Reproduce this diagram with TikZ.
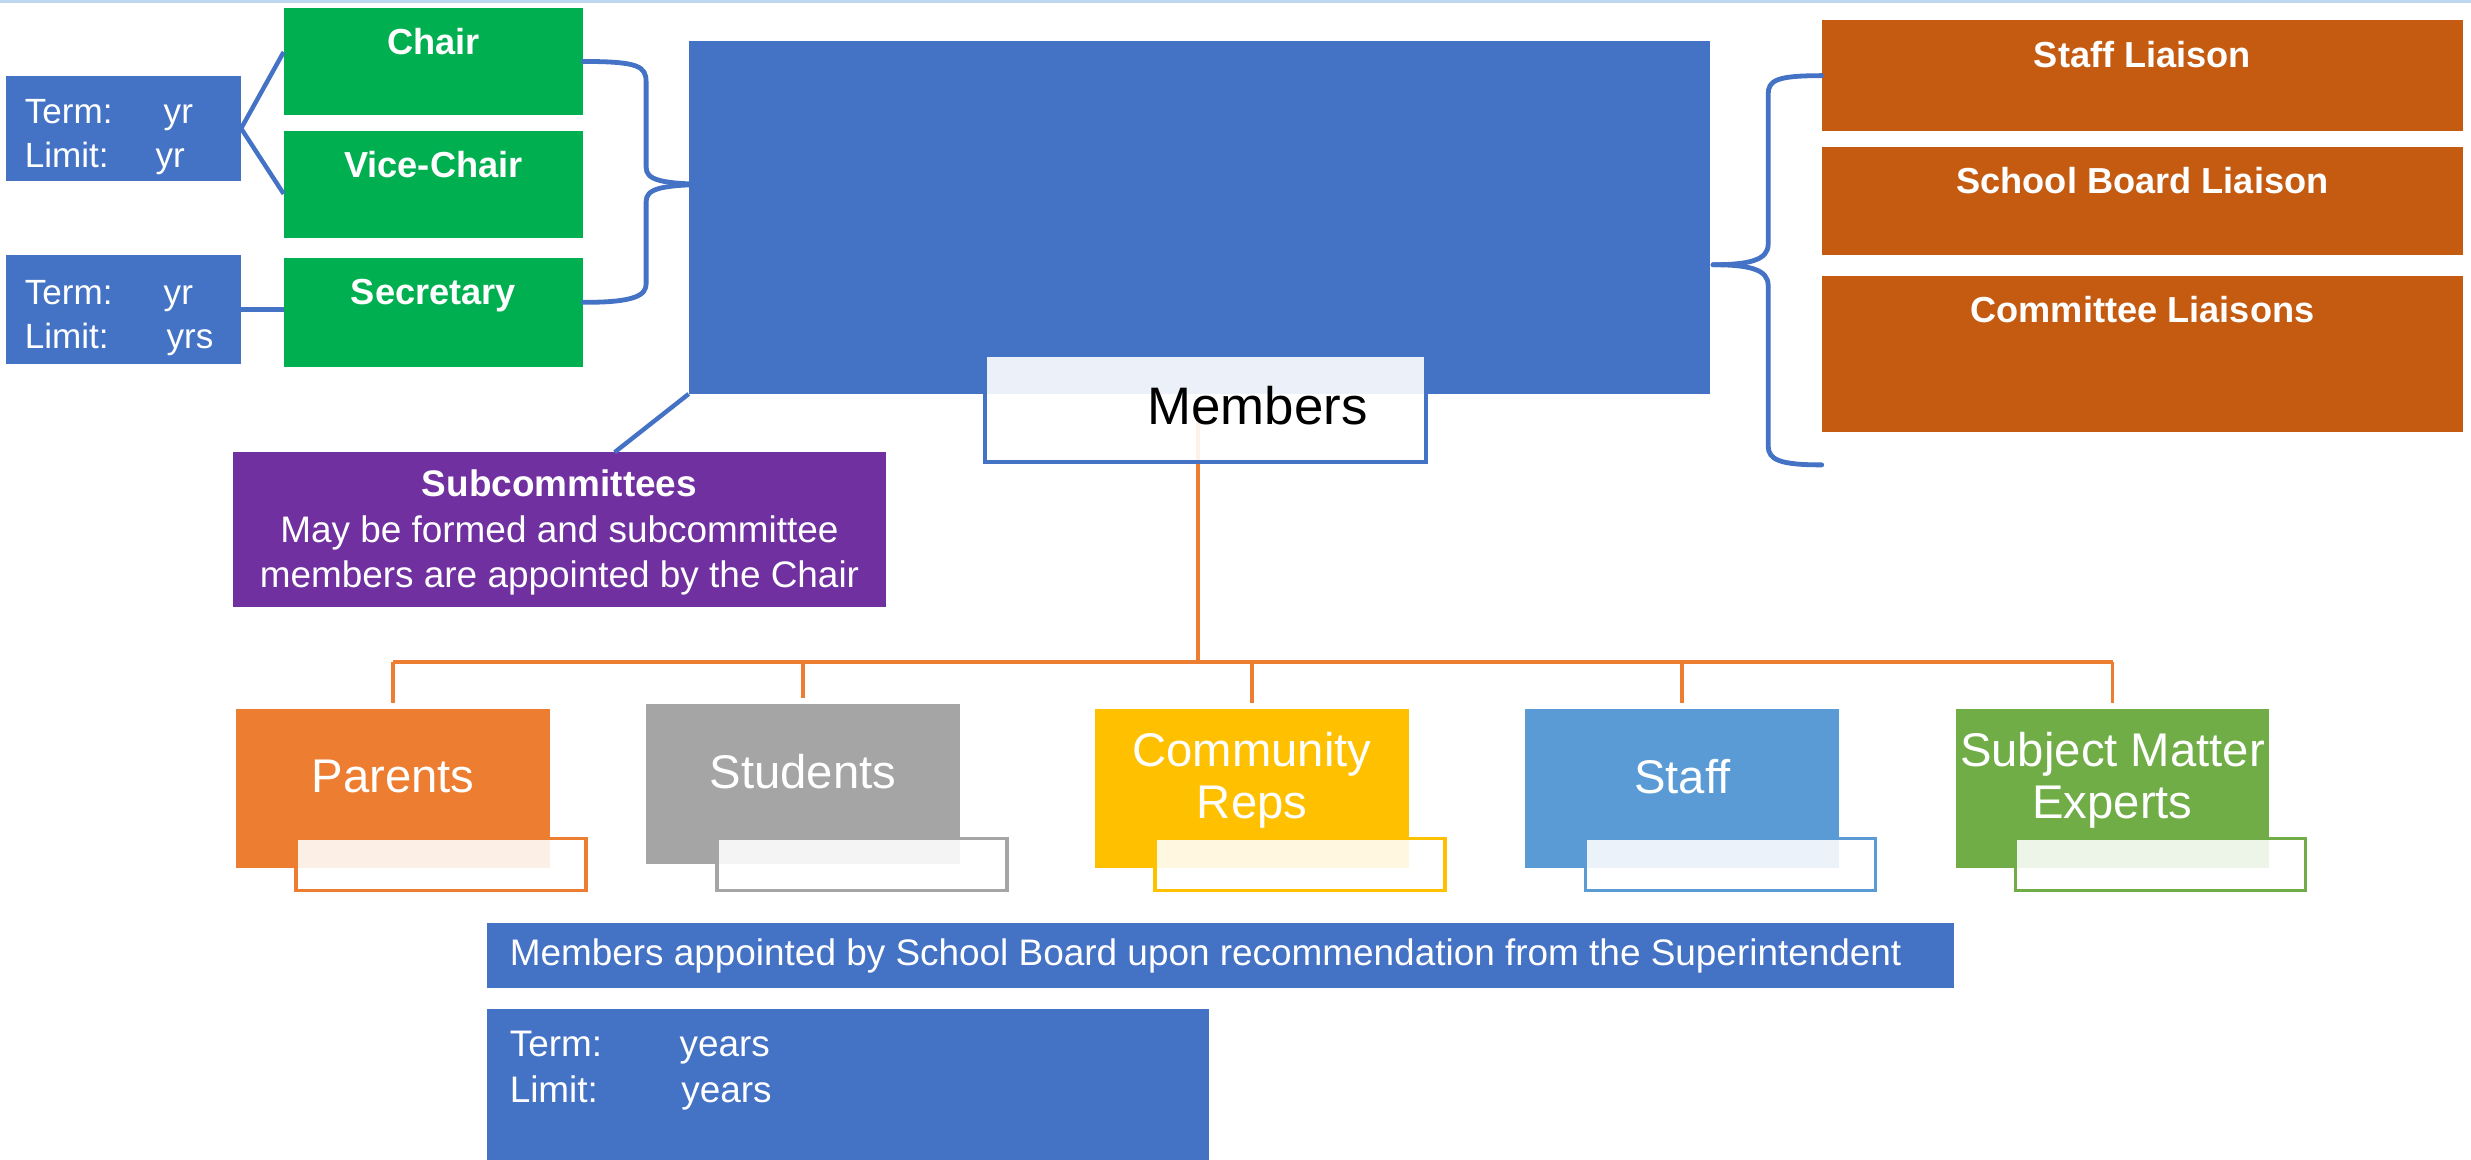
\documentclass[tikz,border=0pt]{standalone}
\usepackage{fontspec}
\setmainfont{Liberation Sans}
\usetikzlibrary{positioning,backgrounds}
\definecolor{cblue}{HTML}{4472C4}
\definecolor{cgreen}{HTML}{00B050}
\definecolor{crust}{HTML}{C55A11}
\definecolor{cpurple}{HTML}{7030A0}
\definecolor{cparents}{HTML}{ED7D31}
\definecolor{cstudents}{HTML}{A5A5A5}
\definecolor{ccommunity}{HTML}{FFC000}
\definecolor{cstaff}{HTML}{5B9BD5}
\definecolor{csme}{HTML}{70AD47}
\definecolor{ctop}{HTML}{BDD7EE}

\begin{document}
\begin{tikzpicture}[x=0.015cm,y=-0.015cm,
	box/.style={rectangle,inner sep=0pt,outer sep=0pt,anchor=north west},
	toplbl/.style={anchor=north,inner sep=0pt,yshift=-0.19cm,text=white,font=\fontsize{9.8}{11}\selectfont\bfseries},
	termtxt/.style={anchor=west,inner sep=0pt,xshift=0.17cm,yshift=-0.08cm,align=left,text=white,font=\fontsize{9.5}{11.8}\selectfont},
	mlbl/.style={inner sep=0pt,align=center,text=white,font=\fontsize{12.8}{14}\selectfont},
	link/.style={draw=cblue,line width=1.2pt},
	brace/.style={draw=cblue,line width=1.3pt,line cap=round},
	tree/.style={draw=cparents,line width=1pt},
	inbox/.style={rectangle,inner sep=0pt,outer sep=0pt,anchor=north west,fill=white,fill opacity=0.88,line width=1pt,minimum width=2.76cm,minimum height=0.495cm}
	]
	\useasboundingbox (0,0) rectangle (1568,736);
	\draw[ctop,line width=1pt] (0,1) -- (1568,1);

	\node[box,fill=cblue,minimum width=2.235cm,minimum height=1.005cm] (tA) at (4,48) {};
	\node[termtxt] (tAt) at (tA.west) {\makebox[37.6pt][l]{Term:}yr\\\makebox[35.4pt][l]{Limit:}yr};
	\node[box,fill=cblue,minimum width=2.235cm,minimum height=1.035cm] (tB) at (4,162) {};
	\node[termtxt] (tBt) at (tB.west) {\makebox[37.6pt][l]{Term:}yr\\\makebox[38.4pt][l]{Limit:}yrs};

	\node[box,fill=cgreen,minimum width=2.85cm,minimum height=1.02cm] (chair) at (180,5) {};
	\node[toplbl] (chairt) at (chair.north) {Chair};
	\node[box,fill=cgreen,minimum width=2.85cm,minimum height=1.02cm] (vice) at (180,83) {};
	\node[toplbl] (vicet) at (vice.north) {Vice-Chair};
	\node[box,fill=cgreen,minimum width=2.85cm,minimum height=1.035cm] (sec) at (180,164) {};
	\node[toplbl] (sect) at (sec.north) {Secretary};

	\node[box,fill=cblue,minimum width=9.72cm,minimum height=3.36cm] (council) at (437,26) {};
	\node[box,draw=cblue,line width=1.2pt,fill=white,fill opacity=0.9,minimum width=4.2cm,minimum height=1.02cm] (members) at (625,225) {};
	\node[inner sep=0pt,font=\fontsize{14.3}{16}\selectfont] (memberst) at ([xshift=0.495cm,yshift=0.02cm]members.center) {Members};

	\node[box,fill=cpurple,minimum width=6.21cm,minimum height=1.47cm] (sub) at (148,287) {};
	\node[align=center,text=white,inner sep=0pt,font=\fontsize{10}{12.4}\selectfont] (subt) at ([yshift=-0.03cm]sub.center) {\textbf{Subcommittees}\\May be formed and subcommittee\\members are appointed by the Chair};

	\node[box,fill=crust,minimum width=6.105cm,minimum height=1.05cm] (sl) at (1156,13) {};
	\node[toplbl] (slt) at (sl.north) {Staff Liaison};
	\node[box,fill=crust,minimum width=6.105cm,minimum height=1.035cm] (sbl) at (1156,93) {};
	\node[toplbl] (sblt) at (sbl.north) {School Board Liaison};
	\node[box,fill=crust,minimum width=6.105cm,minimum height=1.485cm] (cl) at (1156,175) {};
	\node[toplbl] (clt) at (cl.north) {Committee Liaisons};

	\foreach \n/\x/\y/\ix/\ty/\c/\t in {parents/150/450/188/0.12/cparents/Parents,students/410/447/455/0.12/cstudents/Students,community/695/450/733/0.08/ccommunity/{Community\\Reps},staff/968/450/1006/0.12/cstaff/Staff,sme/1241/450/1279/0.08/csme/{Subject Matter\\Experts}}{
		\node[box,fill=\c,minimum width=2.985cm,minimum height=1.515cm] (\n) at (\x,\y) {};
		\node[inbox,draw=\c] (\n-in) at (\ix,532) {};
		\node[mlbl] (\n-t) at ([yshift=\ty cm]\n.center) {\t};
	}

	\node[box,fill=cblue,minimum width=13.965cm,minimum height=0.615cm] (appt) at (309,586) {};
	\node[anchor=west,inner sep=0pt,xshift=0.21cm,text=white,font=\fontsize{10}{12}\selectfont] (apptt) at (appt.west) {Members appointed by School Board upon recommendation from the Superintendent};
	\node[box,fill=cblue,minimum width=6.87cm,minimum height=1.44cm] (termM) at (309,640) {};
	\node[anchor=north west,inner sep=0pt,align=left,text=white,font=\fontsize{10}{12.4}\selectfont] (termMt) at ([xshift=0.21cm,yshift=-0.21cm]termM.north west) {\makebox[46pt][l]{Term:}years\\\makebox[46.5pt][l]{Limit:}years};

	\draw[link] (tA.east) -- ([yshift=0.09cm]chair.west);
	\draw[link] (tA.east) -- ([yshift=-0.09cm]vice.west);
	\draw[link] (tB.east) -- (tB.east -| sec.west);
	\draw[link] (council.south west) -- ([xshift=0.525cm]sub.north);

	\coordinate (lbtip) at (455,117);
	\draw[brace] (chair.east) .. controls (405,39) and (410,42) .. (410,52) -- (410,106) .. controls (410,114) and (418,117) .. (lbtip);
	\draw[brace] (lbtip) .. controls (418,117) and (410,120) .. (410,128) -- (410,180) .. controls (410,187) and (404,192) .. ([yshift=0.1cm]sec.east);

	\coordinate (rbtip) at (1087,168);
	\coordinate (rbend) at (1156,295);
	\draw[brace] (sl.west) .. controls (1127,48) and (1122,51) .. (1122,60) -- (1122,155) .. controls (1122,165) and (1110,168) .. (rbtip);
	\draw[brace] (rbtip) .. controls (1110,168) and (1122,171) .. (1122,181) -- (1122,283) .. controls (1122,292) and (1130,295) .. (rbend);

	\coordinate (hub) at (760,420);
	\begin{pgfonlayer}{background}
		\draw[tree] (hub |- members.center) -- (hub);
		\draw[tree] (hub -| parents.north) -- (hub -| sme.north);
		\foreach \n in {parents,students,community,staff,sme}
			\draw[tree] (hub -| \n.north) -- ([yshift=0.06cm]\n.north);
	\end{pgfonlayer}
\end{tikzpicture}
\end{document}
